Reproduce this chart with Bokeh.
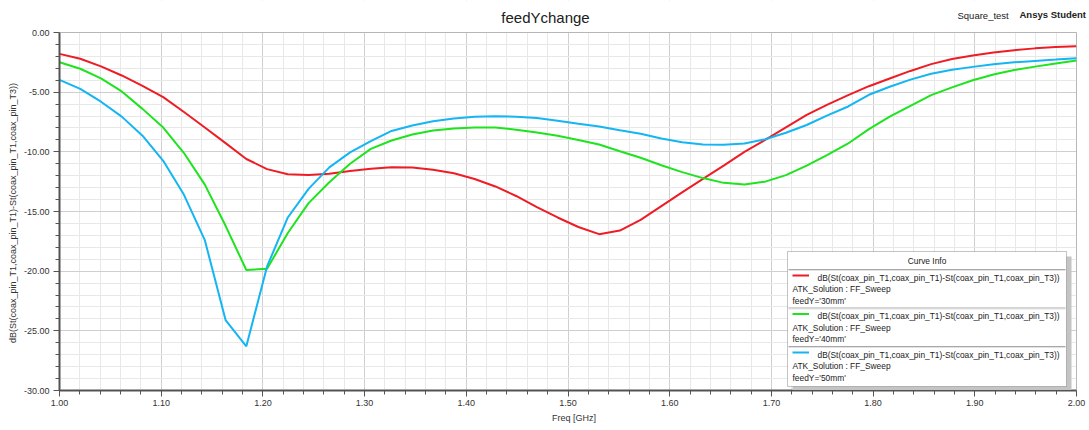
from bokeh.plotting import figure
from bokeh.models import (Range1d, SingleIntervalTicker, PrintfTickFormatter, Label,
                          BoxAnnotation)
from bokeh.embed import file_html
from bokeh.resources import INLINE

# ---------------- data ----------------
freq = [1.0000, 1.0204, 1.0408, 1.0612, 1.0816, 1.1020, 1.1224, 1.1429, 1.1633, 1.1837,
        1.2041, 1.2245, 1.2449, 1.2653, 1.2857, 1.3061, 1.3265, 1.3469, 1.3673, 1.3878,
        1.4082, 1.4286, 1.4490, 1.4694, 1.4898, 1.5102, 1.5306, 1.5510, 1.5714, 1.5918,
        1.6122, 1.6327, 1.6531, 1.6735, 1.6939, 1.7143, 1.7347, 1.7551, 1.7755, 1.7959,
        1.8163, 1.8367, 1.8571, 1.8776, 1.8980, 1.9184, 1.9388, 1.9592, 1.9796, 2.0000]

feed30 = [-1.79, -2.20, -2.84, -3.60, -4.47, -5.42, -6.66, -7.96, -9.27, -10.60,
          -11.45, -11.88, -11.95, -11.83, -11.60, -11.41, -11.30, -11.32, -11.50, -11.80,
          -12.28, -12.90, -13.70, -14.63, -15.50, -16.30, -16.90, -16.60, -15.70, -14.55,
          -13.40, -12.27, -11.15, -10.00, -9.00, -7.95, -6.90, -6.05, -5.25, -4.50,
          -3.85, -3.22, -2.65, -2.22, -1.92, -1.68, -1.48, -1.33, -1.22, -1.15]

feed40 = [-2.49, -3.04, -3.85, -4.94, -6.40, -7.97, -10.10, -12.75, -16.20, -19.90,
          -19.80, -16.80, -14.30, -12.55, -11.00, -9.75, -9.05, -8.55, -8.21, -8.05,
          -7.96, -7.96, -8.15, -8.38, -8.65, -9.00, -9.39, -9.95, -10.50, -11.12,
          -11.70, -12.20, -12.60, -12.74, -12.50, -11.95, -11.15, -10.25, -9.30, -8.10,
          -7.05, -6.15, -5.25, -4.60, -4.00, -3.52, -3.15, -2.86, -2.60, -2.35]

feed50 = [-3.97, -4.72, -5.80, -7.05, -8.65, -10.75, -13.60, -17.40, -24.10, -26.30,
          -19.60, -15.50, -13.10, -11.30, -10.05, -9.10, -8.25, -7.80, -7.43, -7.20,
          -7.07, -7.01, -7.05, -7.17, -7.40, -7.65, -7.88, -8.20, -8.48, -8.88,
          -9.20, -9.39, -9.40, -9.30, -8.95, -8.40, -7.75, -6.95, -6.20, -5.22,
          -4.55, -3.95, -3.45, -3.12, -2.88, -2.66, -2.50, -2.38, -2.27, -2.15]

series_names = ["feedY='30mm'", "feedY='40mm'", "feedY='50mm'"]
series_colors = ["#ee1d25", "#1ee41e", "#14b5f3"]
expr = "dB(St(coax_pin_T1,coax_pin_T1)-St(coax_pin_T1,coax_pin_T3))"
solution = "ATK_Solution : FF_Sweep"
title_text = "feedYchange"
x_title = "Freq [GHz]"
x_lo, x_hi = 1.0, 2.0
y_lo, y_hi = -30.0, 0.0

FONT = "Liberation Sans"
TXT = "#333333"

# ---------------- layout (canvas pixels) ----------------
W, H = 1088, 428
PL, PR, PT, PB = 59, 1076, 32, 390      # plot-area edges
FR = 1088                                # frame right edge (room for header text)
px_per_x = (PR - PL) / (x_hi - x_lo)
px_per_y = (PB - PT) / (y_hi - y_lo)
x_end = x_hi + (FR - PR) / px_per_x
y_end = y_hi + PT / px_per_y

p = figure(width=W, height=H, x_range=Range1d(x_lo, x_end), y_range=Range1d(y_lo, y_end),
           output_backend="svg", toolbar_location=None,
           min_border_left=PL, min_border_right=W - FR,
           min_border_top=0, min_border_bottom=H - PB)
p.background_fill_color = "white"
p.border_fill_color = "white"
p.outline_line_color = None

p.xaxis.ticker = SingleIntervalTicker(interval=0.1, num_minor_ticks=5)
p.yaxis.ticker = SingleIntervalTicker(interval=5, num_minor_ticks=5)
p.xaxis.formatter = PrintfTickFormatter(format="%.2f")
p.yaxis.formatter = PrintfTickFormatter(format="%.2f")
p.xaxis.bounds = (x_lo, x_hi)
p.yaxis.bounds = (y_lo, y_hi)

for ax in (p.xaxis[0], p.yaxis[0]):
    ax.axis_line_color = "#555555"
    ax.axis_line_width = 2
    ax.major_tick_line_color = "#555555"
    ax.minor_tick_line_color = "#555555"
    ax.major_tick_out = 6
    ax.major_tick_in = 0
    ax.minor_tick_out = 4
    ax.minor_tick_in = 0
    ax.major_label_text_font = FONT
    ax.major_label_text_font_size = "9px"
    ax.major_label_text_color = TXT
    ax.axis_label_text_font = FONT
    ax.axis_label_text_font_size = "9px"
    ax.axis_label_text_font_style = "normal"
    ax.axis_label_text_color = TXT

p.xaxis.axis_label = x_title
# the label is centred on the whole frame (which includes the header strip);
# trailing no-break spaces move the visible text down to the plot-area centre
p.yaxis.axis_label = expr + "\u00a0" * 14
p.xaxis.major_label_standoff = 3
p.xaxis.axis_label_standoff = 4
p.yaxis.major_label_standoff = 4
p.yaxis.axis_label_standoff = 3

for g in (p.xgrid[0], p.ygrid[0]):
    g.grid_line_color = "#cfcfcf"
    g.grid_line_width = 1
    g.minor_grid_line_color = "#e8e8e8"
    g.minor_grid_line_width = 1

for ys, c in zip([feed30, feed40, feed50], series_colors):
    p.line(freq, ys, line_color=c, line_width=2)

# white cover outside the plot area (header strip and right strip)
p.add_layout(BoxAnnotation(bottom=y_hi, fill_color="white", fill_alpha=1.0, line_color=None))
p.add_layout(BoxAnnotation(left=x_hi, fill_color="white", fill_alpha=1.0, line_color=None))
# plot-area border
p.add_layout(BoxAnnotation(left=x_lo, right=x_hi, bottom=y_lo, top=y_hi,
                           fill_alpha=0.0, line_color="#444444", line_width=1))

# ---------------- texts (canvas coords -> frame screen coords) ----------------
def lab(text, px, py, size="8.4px", bold=False, align="left", color="#222222"):
    return Label(x=px - PL, y=PB - py, x_units="screen", y_units="screen", text=text,
                 text_font=FONT, text_font_size=size,
                 text_font_style="bold" if bold else "normal",
                 text_align=align, text_baseline="middle", text_color=color)


p.add_layout(lab(title_text, 545, 17, size="15px", align="center", color="#202020"))
p.add_layout(lab("Square_test", 957, 15, size="9.5px"))
p.add_layout(lab("Ansys Student", 1019, 14, size="9.5px", bold=True))

# ---------------- legend box ----------------
def box(l, r, t, b, fill, line=None):
    return BoxAnnotation(left=l - PL, right=r - PL, top=PB - t, bottom=PB - b,
                         left_units="screen", right_units="screen",
                         top_units="screen", bottom_units="screen",
                         fill_color=fill, fill_alpha=1.0,
                         line_color=line, line_width=1)


L, R, T, B = 787, 1066, 251, 386
p.add_layout(box(L + 5, R + 5, T + 5, B + 3.5, "#c4c4c4"))
p.add_layout(box(L, R, T, B, "white", "#3c3c3c"))
p.add_layout(lab("Curve Info", (L + R) / 2, 260.5, align="center"))

seps = [269, 307.5, 346]
for sy in seps:
    p.add_layout(box(L + 1, R - 1, sy - 0.5, sy + 0.5, "#a8a8a8"))
    p.add_layout(box(L + 1, R - 1, sy + 0.5, sy + 1.5, "#e2e2e2"))

for i, (name, c) in enumerate(zip(series_names, series_colors)):
    y0 = seps[i]
    p.add_layout(box(792, 808.5, y0 + 5, y0 + 7, c))
    p.add_layout(lab(expr, 817, y0 + 8.3))
    p.add_layout(lab(solution, 792, y0 + 19.5))
    p.add_layout(lab(name, 792, y0 + 31))

open("out.html", "w").write(file_html(p, INLINE))
